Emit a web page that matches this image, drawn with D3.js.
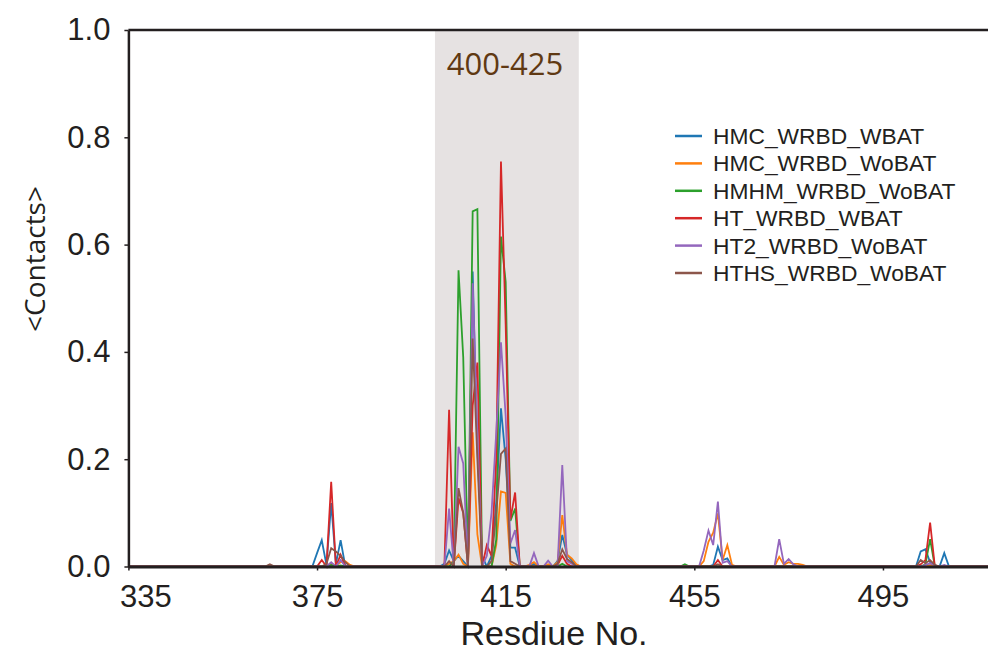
<!DOCTYPE html>
<html>
<head>
<meta charset="utf-8">
<script src="https://cdn.jsdelivr.net/npm/d3@7"></script>
<style>
    body { margin: 0; background: #fff; }
    svg { display: block; }
    .axis text { font-family: "Liberation Sans", Arial, sans-serif; fill: #231f20; }
    .axis line, .axis path { stroke: #231f20; }
</style>
</head>
<body>
<svg id="chart"></svg>
<script>
// residue numbers sampled (gaps are all-zero stretches)
const residues = [
    335,
    364, 365, 366,
    373, 374, 375, 376, 377, 378, 379, 380, 381, 382, 383,
    399, 400, 401, 402, 403, 404, 405, 406, 407, 408, 409, 410, 411, 412, 413, 414,
    415, 416, 417, 418, 419, 420, 421, 422, 423, 424, 425, 426, 427, 428, 429, 430, 431,
    451, 452, 453, 454, 455, 456, 457, 458, 459, 460, 461, 462, 463, 464, 465,
    470, 471, 472, 473, 474, 475, 476, 477, 478, 479,
    500, 501, 502, 503, 504, 505, 506, 507, 508, 509, 510,
    520
];

const hmcWbat = [
    0,
    0, 0, 0,
    0, 0, 0.025, 0.049, 0.003, 0.118, 0.005, 0.049, 0, 0, 0,
    0, 0, 0, 0.005, 0.03, 0.01, 0.02, 0.01, 0, 0.55, 0.22, 0.02, 0, 0.02, 0.12, 0.295,
    0.2, 0.035, 0.035, 0, 0, 0, 0.005, 0, 0, 0, 0, 0.01, 0.059, 0.022, 0.012, 0, 0,
    0, 0, 0, 0, 0, 0, 0, 0, 0.003, 0.037, 0.012, 0.015, 0, 0, 0,
    0, 0, 0, 0, 0, 0, 0, 0, 0, 0,
    0, 0, 0, 0.028, 0.032, 0.008, 0, 0, 0.025, 0, 0,
    0
];

const hmcWobat = [
    0,
    0, 0, 0,
    0, 0, 0, 0, 0, 0.004, 0.002, 0.008, 0.01, 0.003, 0,
    0, 0, 0, 0, 0.005, 0.01, 0.022, 0.005, 0, 0.25, 0.06, 0, 0, 0, 0.04, 0.14,
    0.137, 0.005, 0, 0, 0, 0.003, 0.008, 0, 0, 0.004, 0, 0.008, 0.096, 0.022, 0.015, 0.004, 0,
    0, 0, 0, 0, 0, 0, 0.01, 0.046, 0.063, 0.099, 0.012, 0.04, 0.003, 0, 0,
    0, 0, 0, 0.018, 0.003, 0.008, 0.005, 0.005, 0.003, 0,
    0, 0, 0, 0, 0, 0.003, 0, 0, 0, 0, 0,
    0
];

const hmhmWobat = [
    0,
    0, 0, 0,
    0, 0, 0, 0, 0, 0.003, 0, 0.002, 0, 0, 0,
    0, 0, 0, 0, 0, 0.01, 0.552, 0.39, 0, 0.662, 0.666, 0, 0, 0, 0.05, 0.615,
    0.53, 0.085, 0.108, 0, 0, 0, 0, 0, 0, 0, 0, 0, 0.005, 0, 0, 0, 0,
    0, 0, 0.004, 0, 0, 0, 0, 0, 0, 0, 0, 0, 0, 0, 0,
    0, 0, 0, 0, 0, 0, 0, 0, 0, 0,
    0, 0, 0, 0, 0.004, 0.051, 0, 0, 0, 0, 0,
    0
];

const htWbat = [
    0,
    0, 0, 0,
    0, 0, 0, 0.012, 0, 0.158, 0, 0.022, 0, 0, 0,
    0, 0, 0, 0, 0.292, 0, 0.127, 0.1, 0, 0.3, 0.38, 0, 0.04, 0.02, 0.2, 0.755,
    0.45, 0.088, 0.138, 0, 0, 0, 0, 0, 0, 0, 0, 0.003, 0.02, 0.005, 0, 0, 0,
    0, 0, 0, 0, 0, 0, 0, 0, 0, 0.012, 0, 0, 0, 0, 0,
    0, 0, 0, 0, 0, 0, 0, 0, 0, 0,
    0, 0, 0, 0.004, 0.012, 0.082, 0, 0, 0, 0, 0,
    0
];

const ht2Wobat = [
    0,
    0, 0, 0,
    0, 0, 0, 0, 0, 0.008, 0, 0.012, 0, 0, 0,
    0, 0, 0, 0, 0.108, 0, 0.223, 0.192, 0, 0.528, 0.25, 0, 0.02, 0.1, 0.25, 0.418,
    0.28, 0.043, 0.068, 0, 0, 0, 0.025, 0, 0, 0.011, 0, 0, 0.189, 0.01, 0.005, 0, 0,
    0, 0, 0, 0, 0, 0, 0.03, 0.067, 0.04, 0.121, 0.007, 0.01, 0, 0, 0,
    0, 0, 0, 0.051, 0.005, 0.014, 0.004, 0, 0, 0,
    0, 0, 0, 0, 0.003, 0.006, 0.002, 0, 0.003, 0, 0,
    0
];

const hthsWobat = [
    0,
    0, 0.004, 0,
    0, 0, 0, 0, 0.005, 0.034, 0.028, 0.02, 0.008, 0, 0,
    0, 0, 0, 0, 0.01, 0, 0.146, 0.1, 0, 0.425, 0.2, 0, 0, 0.01, 0.1, 0.21,
    0.22, 0.01, 0.005, 0, 0, 0, 0, 0, 0, 0, 0, 0.005, 0.032, 0.014, 0.008, 0, 0,
    0, 0, 0, 0, 0, 0, 0, 0, 0, 0.004, 0, 0, 0, 0, 0,
    0, 0, 0, 0, 0, 0, 0, 0, 0, 0,
    0, 0, 0, 0.012, 0.006, 0.012, 0.003, 0, 0, 0, 0,
    0
];

const seriesNames = ['HMC_WRBD_WBAT', 'HMC_WRBD_WoBAT', 'HMHM_WRBD_WoBAT', 'HT_WRBD_WBAT', 'HT2_WRBD_WoBAT', 'HTHS_WRBD_WoBAT'];
const seriesValues = [hmcWbat, hmcWobat, hmhmWobat, htWbat, ht2Wobat, hthsWobat];
const seriesColors = ['#1f77b4', '#ff7f0e', '#2ca02c', '#d62728', '#9467bd', '#8c564b'];

const xTicks = [335, 375, 415, 455, 495];
const yTicks = [0, 0.2, 0.4, 0.6, 0.8, 1.0];
const bandRange = [400, 430.5];
const bandLabel = '400-425';

class ContactPlot {
    constructor(_config) {
        this.config = {
            parentElement: _config.parentElement,
            containerWidth: _config.containerWidth || 988,
            containerHeight: _config.containerHeight || 652,
            margin: { top: 30, left: 128.4, bottom: 85.5 },
            pxPerResidue: 4.716
        }
        this.initVis();
    }

    initVis() {
        let vis = this;

        vis.height = vis.config.containerHeight - vis.config.margin.top - vis.config.margin.bottom;
        vis.width = (520 - 335) * vis.config.pxPerResidue;

        vis.xScale = d3.scaleLinear()
            .domain([335, 520])
            .range([0, vis.width]);

        vis.yScale = d3.scaleLinear()
            .domain([0, 1])
            .range([vis.height, 0]);

        vis.svg = d3.select(vis.config.parentElement)
            .attr('width', vis.config.containerWidth)
            .attr('height', vis.config.containerHeight);

        vis.chart = vis.svg.append('g')
            .attr('transform', `translate(${vis.config.margin.left},${vis.config.margin.top})`);

        vis.renderVis();
    }

    renderVis() {
        let vis = this;

        // highlighted region
        vis.chart.append('rect')
            .attr('x', vis.xScale(bandRange[0]))
            .attr('width', vis.xScale(bandRange[1]) - vis.xScale(bandRange[0]))
            .attr('y', 0)
            .attr('height', vis.height)
            .attr('fill', '#e6e2e2');

        vis.chart.append('text')
            .attr('x', vis.xScale(bandRange[0]) + 70)
            .attr('y', 45)
            .attr('text-anchor', 'middle')
            .style('font-family', '"Open Sans", sans-serif')
            .style('font-size', '31px')
            .attr('fill', '#603913')
            .text(bandLabel);

        const line = d3.line()
            .x((d, i) => vis.xScale(residues[i]))
            .y(d => vis.yScale(d));

        vis.chart.selectAll('.series')
            .data(seriesValues)
            .join('path')
            .attr('class', 'series')
            .attr('d', d => line(d))
            .attr('fill', 'none')
            .attr('stroke', (d, i) => seriesColors[i])
            .attr('stroke-width', 1.8)
            .attr('stroke-linejoin', 'miter');

        // axes
        const xAxis = d3.axisBottom(vis.xScale)
            .tickValues(xTicks)
            .tickSize(4)
            .tickSizeOuter(0)
            .tickPadding(14);

        const yAxis = d3.axisLeft(vis.yScale)
            .tickValues(yTicks)
            .tickSize(4)
            .tickSizeOuter(0)
            .tickPadding(14)
            .tickFormat(d3.format('.1f'));

        const xAxisG = vis.chart.append('g')
            .attr('class', 'axis x-axis')
            .attr('transform', `translate(0,${vis.height})`)
            .call(xAxis);
        xAxisG.select('.domain').attr('stroke-width', 3);
        xAxisG.selectAll('.tick line').attr('stroke-width', 1.5);
        xAxisG.selectAll('text')
            .style('font-size', '31px')
            .attr('dx', d => d === 335 ? 17 : 0);

        const yAxisG = vis.chart.append('g')
            .attr('class', 'axis y-axis')
            .call(yAxis);
        yAxisG.select('.domain').attr('stroke-width', 2.5);
        yAxisG.selectAll('.tick line').attr('stroke-width', 1.5);
        yAxisG.selectAll('text')
            .style('font-size', '31px');

        // top frame line
        vis.chart.append('line')
            .attr('x1', 0)
            .attr('x2', vis.width)
            .attr('y1', 0)
            .attr('y2', 0)
            .attr('stroke', '#231f20')
            .attr('stroke-width', 2.5);

        vis.svg.append('text')
            .attr('x', 554)
            .attr('y', 645)
            .attr('text-anchor', 'middle')
            .style('font-family', '"Liberation Sans", Arial, sans-serif')
            .style('font-size', '34px')
            .attr('fill', '#231f20')
            .text('Resdiue No.');

        vis.svg.append('text')
            .attr('transform', 'translate(45, 259) rotate(-90)')
            .attr('text-anchor', 'middle')
            .style('font-family', '"Open Sans", sans-serif')
            .style('font-size', '28px')
            .attr('fill', '#231f20')
            .text('<Contacts>');

        // legend
        const legend = vis.svg.append('g')
            .attr('transform', 'translate(675, 136)');

        const entry = legend.selectAll('.entry')
            .data(seriesNames)
            .join('g')
            .attr('class', 'entry')
            .attr('transform', (d, i) => `translate(0, ${i * 27.4})`);

        entry.append('line')
            .attr('x1', 0)
            .attr('x2', 27)
            .attr('stroke', (d, i) => seriesColors[i])
            .attr('stroke-width', 2.5);

        entry.append('text')
            .attr('x', 38)
            .attr('y', 8)
            .style('font-family', '"Liberation Sans", Arial, sans-serif')
            .style('font-size', '22.8px')
            .attr('fill', '#231f20')
            .text(d => d);
    }
}

new ContactPlot({ parentElement: '#chart' });
</script>
</body>
</html>
